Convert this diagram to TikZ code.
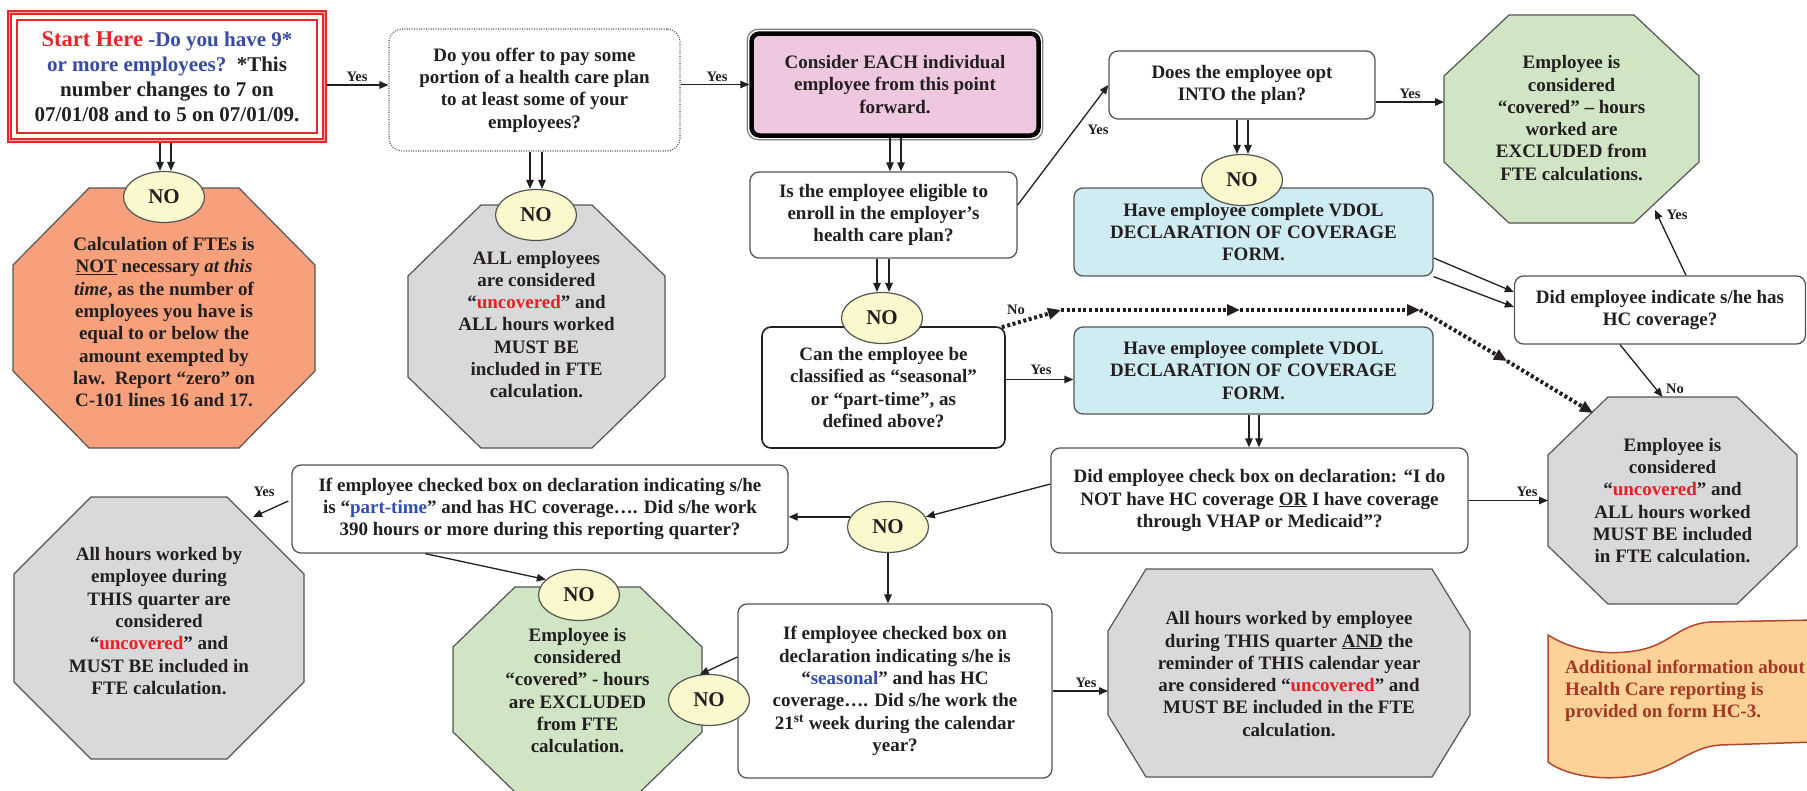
\documentclass[tikz,border=0pt]{standalone}
\usepackage{fontspec}
\setmainfont{Liberation Serif}
\usetikzlibrary{arrows.meta,calc,shapes.geometric}

\definecolor{startred}{RGB}{230,40,40}
\definecolor{qblue}{RGB}{55,75,165}
\definecolor{uncred}{RGB}{235,30,35}
\definecolor{ptblue}{RGB}{50,80,170}
\definecolor{orangefill}{RGB}{246,160,124}
\definecolor{grayfill}{RGB}{217,217,220}
\definecolor{greenfill}{RGB}{207,229,195}
\definecolor{bluefill}{RGB}{208,236,243}
\definecolor{pinkfill}{RGB}{238,200,224}
\definecolor{nofill}{RGB}{250,248,205}
\definecolor{bannerfill}{RGB}{252,210,152}
\definecolor{bannerline}{RGB}{180,70,45}
\definecolor{bannertext}{RGB}{165,55,35}
\definecolor{textdark}{RGB}{35,31,32}
\definecolor{linegray}{RGB}{85,85,85}

\tikzset{
  base/.style={font=\fontsize{19}{22.3}\selectfont\bfseries, text=textdark, align=center},
  box/.style={base, draw=linegray, line width=1.3pt, rounded corners=9pt, fill=white, inner sep=0pt},
  octline/.style={draw=linegray, line width=1.2pt},
  nobubble/.style={ellipse, draw=linegray, line width=1.2pt, fill=nofill, minimum width=81pt, minimum height=51pt, inner sep=0pt, font=\fontsize{21}{24}\selectfont\bfseries, text=textdark},
  arr/.style={draw=textdark, line width=1.3pt, -{Triangle[length=9pt,width=7.5pt]}},
  dotarr/.style={draw=textdark, line width=4pt, dash pattern=on 3pt off 2.6pt, -{Triangle[length=13pt,width=11pt]}},
  lbl/.style={font=\fontsize{14.5}{17}\selectfont\bfseries, text=textdark, inner sep=0pt},
}

% #1 name, #2 centre, #3 width, #4 height, #5 cut x, #6 cut y, #7 fill, #8 text, #9 text y offset
\newcommand{\myoct}[9]{%
  \node[minimum width=#3pt, minimum height=#4pt, inner sep=0pt, outer sep=0pt] (#1) at (#2) {};
  \draw[octline, fill=#7] ([xshift=#5pt]#1.north west) -- ([xshift=-#5pt]#1.north east)
    -- ([yshift=-#6pt]#1.north east) -- ([yshift=#6pt]#1.south east)
    -- ([xshift=-#5pt]#1.south east) -- ([xshift=#5pt]#1.south west)
    -- ([yshift=#6pt]#1.south west) -- ([yshift=-#6pt]#1.north west) -- cycle;
  \node[base, inner sep=0pt] (#1-text) at ($(#1)+(0,#9)$) {#8};
}

\begin{document}
\begin{tikzpicture}[x=1pt,y=-1pt]
\useasboundingbox (0,0) rectangle (1807,790);
\fill[white] (0,0) rectangle (1807,790);

% ---------- octagons ----------
\myoct{orange}{164,318}{302}{260}{76}{77}{orangefill}{Calculation of FTEs is\\\underline{NOT} necessary \textit{at this}\\\textit{time}, as the number of\\employees you have is\\equal to or below the\\amount exempted by\\law.\ \ Report “zero” on\\C-101 lines 16 and 17.}{4}
\myoct{grayB}{536.5,326.5}{257}{243}{73}{71}{grayfill}{ALL employees\\are considered\\“\textcolor{uncred}{uncovered}” and\\ALL hours worked\\MUST BE\\included in FTE\\calculation.}{-2}
\myoct{greenT}{1571.5,119}{255}{208}{65}{61}{greenfill}{Employee is\\considered\\“covered” – hours\\worked are\\EXCLUDED from\\FTE calculations.}{-1}
\myoct{grayR}{1672.5,500.5}{249}{207}{60}{58}{grayfill}{Employee is\\considered\\“\textcolor{uncred}{uncovered}” and\\ALL hours worked\\MUST BE included\\in FTE calculation.}{0}
\myoct{grayL}{159,628}{290}{262}{77}{77}{grayfill}{All hours worked by\\employee during\\THIS quarter are\\considered\\“\textcolor{uncred}{uncovered}” and\\MUST BE included in\\FTE calculation.}{-7}
\myoct{greenB}{577.5,689.5}{249}{205}{62}{60}{greenfill}{Employee is\\considered\\“covered” - hours\\are EXCLUDED\\from FTE\\calculation.}{1}
\myoct{grayM}{1289,673}{362}{208}{38}{62}{grayfill}{All hours worked by employee\\during THIS quarter \underline{AND} the\\reminder of THIS calendar year\\are considered “\textcolor{uncred}{uncovered}” and\\MUST BE included in the FTE\\calculation.}{1}

% ---------- start box ----------
\node[base, font=\fontsize{21}{25}\selectfont\bfseries, minimum width=320pt, minimum height=133pt, inner sep=0pt, outer sep=0pt, fill=white] (start) at (167,76.5)
  {{\fontsize{22.5}{25}\selectfont\color{startred}Start Here} \textcolor{qblue}{-Do you have 9*}\\\textcolor{qblue}{or more employees?}\ \ *This\\number changes to 7 on\\07/01/08 and to 5 on 07/01/09.};
\draw[startred, line width=5.3pt] ([shift={(2.65pt,-2.65pt)}]start.north west) rectangle ([shift={(-2.65pt,2.65pt)}]start.south east);
\draw[red!35, line width=1pt] ([shift={(2.65pt,-2.65pt)}]start.north west) rectangle ([shift={(-2.65pt,2.65pt)}]start.south east);
\draw[startred, line width=2pt] ([shift={(10.2pt,-10.2pt)}]start.north west) rectangle ([shift={(-10.2pt,10.2pt)}]start.south east);

% ---------- boxes ----------
\node[box, draw=linegray, line width=1.2pt, dash pattern=on 1pt off 1.4pt, rounded corners=13pt, minimum width=291pt, minimum height=122pt] (offer) at (534.5,90)
  {Do you offer to pay some\\portion of a health care plan\\to at least some of your\\employees?};
\node[box, draw=black, line width=4.5pt, fill=pinkfill, rounded corners=8pt, minimum width=287pt, minimum height=102pt] (pink) at (895,84.5)
  {Consider EACH individual\\employee from this point\\forward.};
\draw[gray, line width=1.2pt, rounded corners=11pt] ([shift={(-2pt,2pt)}]pink.north west) rectangle ([shift={(2pt,-2pt)}]pink.south east);
\node[box, minimum width=267pt, minimum height=86pt] (eligible) at (883.5,215)
  {Is the employee eligible to\\enroll in the employer’s\\health care plan?};
\node[box, minimum width=266pt, minimum height=68pt] (opt) at (1242,85)
  {Does the employee opt\\INTO the plan?};
\node[box, fill=bluefill, minimum width=359pt, minimum height=88pt] (blue1) at (1253.5,232)
  {Have employee complete VDOL\\DECLARATION OF COVERAGE\\FORM.};
\node[box, minimum width=291pt, minimum height=68pt] (indicate) at (1660,310)
  {Did employee indicate s/he has\\HC coverage?};
\node[box, draw=textdark, line width=1.6pt, minimum width=243pt, minimum height=121pt] (can) at (883.5,387.5)
  {Can the employee be\\classified as “seasonal”\\or “part-time”, as\\defined above?};
\node[box, fill=bluefill, minimum width=359pt, minimum height=87pt] (blue2) at (1253.5,370.5)
  {Have employee complete VDOL\\DECLARATION OF COVERAGE\\FORM.};
\node[box, minimum width=417pt, minimum height=105pt] (check) at (1259.5,500.5)
  {Did employee check box on declaration: “I do\\NOT have HC coverage \underline{OR} I have coverage\\through VHAP or Medicaid”?};
\node[box, minimum width=496pt, minimum height=88pt] (parttime) at (540,509)
  {If employee checked box on declaration indicating s/he\\is “\textcolor{ptblue}{part-time}” and has HC coverage…. Did s/he work\\390 hours or more during this reporting quarter?};
\node[box, minimum width=314pt, minimum height=174pt] (seasonal) at (895,691)
  {If employee checked box on\\declaration indicating s/he is\\“\textcolor{ptblue}{seasonal}” and has HC\\coverage…. Did s/he work the\\21\textsuperscript{st} week during the calendar\\year?};

% ---------- banner ----------
\draw[draw=bannerline, fill=bannerfill, line width=1.5pt] (1548,635) .. controls (1575,652) and (1610,656) .. (1640,650) .. controls (1670,644) and (1680,624) .. (1710,622) -- (1815,620) -- (1815,742) -- (1720,745) .. controls (1690,747) and (1675,768) .. (1640,775) .. controls (1600,782) and (1565,775) .. (1548,762) -- cycle;
\node[base, align=left, text=bannertext, anchor=west, inner sep=0pt] (banner) at (1565,691)
  {Additional information about\\Health Care reporting is\\provided on form HC-3.};

% ---------- NO bubbles ----------
\node[nobubble] (noStart) at (164,197) {NO};
\node[nobubble] (noOffer) at (536,215) {NO};
\node[nobubble] (noElig) at (882,318) {NO};
\node[nobubble] (noOpt) at (1242,180) {NO};
\node[nobubble] (noMid) at (888,527) {NO};
\node[nobubble] (noGreen) at (579,595) {NO};
\node[nobubble] (noSeason) at (709,700) {NO};

% ---------- double arrows ----------
\coordinate (s1) at ($(noStart.north)+(-4,0)$);
\coordinate (s2) at ($(noStart.north)+(7,0)$);
\draw[arr] (s1 |- start.south) -- (s1);
\draw[arr] (s2 |- start.south) -- (s2);
\coordinate (o1) at ($(noOffer.north)+(-6,0)$);
\coordinate (o2) at ($(noOffer.north)+(6,0)$);
\draw[arr] (o1 |- offer.south) -- (o1);
\draw[arr] (o2 |- offer.south) -- (o2);
\coordinate (p1) at ($(pink.south)+(-5,0)$);
\coordinate (p2) at ($(pink.south)+(6,0)$);
\draw[arr] (p1) -- (p1 |- eligible.north);
\draw[arr] (p2) -- (p2 |- eligible.north);
\coordinate (e1) at ($(noElig.north)+(-5,0)$);
\coordinate (e2) at ($(noElig.north)+(7,0)$);
\draw[arr] (e1 |- eligible.south) -- (e1);
\draw[arr] (e2 |- eligible.south) -- (e2);
\coordinate (q1) at ($(noOpt.north)+(-5,0)$);
\coordinate (q2) at ($(noOpt.north)+(6,0)$);
\draw[arr] (q1 |- opt.south) -- (q1);
\draw[arr] (q2 |- opt.south) -- (q2);
\coordinate (b1) at ($(blue2.south)+(-4.5,0)$);
\coordinate (b2) at ($(blue2.south)+(5.5,0)$);
\draw[arr] (b1) -- (b1 |- check.north);
\draw[arr] (b2) -- (b2 |- check.north);

% ---------- single arrows ----------
\coordinate (c1) at ($(start.east)+(0,8.5)$);
\draw[arr] (c1) -- (c1 -| offer.west);
\node[lbl] (yes1) at (357,77) {Yes};
\draw[arr] (pink.west -| offer.east) -- (pink.west);
\node[lbl] (yes2) at (717,77) {Yes};
\draw[arr] ($(eligible.east)+(0,-10)$) -- (opt.west);
\node[lbl] (yes3) at (1098,130) {Yes};
\coordinate (c2) at ($(opt.east)+(0,17)$);
\draw[arr] (c2) -- (c2 -| greenT.west);
\node[lbl] (yes4) at (1410,94) {Yes};
\draw[arr] ($(blue1.east)+(0,26)$) -- ($(indicate.west)+(0,-18)$);
\draw[arr] (blue1.south east) -- ($(indicate.west)+(0,-3)$);
\draw[arr] ($(indicate.north)+(26,0)$) -- ($(greenT.south east)+(-44,-13)$);
\node[lbl] (yes5) at (1677,215) {Yes};
\draw[arr] ($(indicate.south)+(-40,0)$) -- ($(grayR.north)+(-10,0)$);
\node[lbl] (no1) at (1675,389) {No};
\coordinate (c3) at ($(can.east)+(0,-8)$);
\draw[arr] (c3) -- (c3 -| blue2.west);
\node[lbl] (yes6) at (1041,370) {Yes};
\draw[arr] (check.east) -- (grayR.west);
\node[lbl] (yes7) at (1527,492) {Yes};
\draw[arr] ($(check.west)+(0,-16.5)$) -- (noMid.15);
\draw[arr] (noMid.165) -- (noMid.165 -| parttime.east);
\draw[arr] (noMid.south) -- (noMid.south |- seasonal.north);
\draw[arr] ($(parttime.west)+(-3,-8)$) -- ($(grayL.north east)+(-51,20)$);
\node[lbl] (yes8) at (264,492) {Yes};
\draw[arr] ($(parttime.south west)+(134,0)$) -- (noGreen.155);
\draw[arr] ($(seasonal.west)+(0,-34)$) -- (noSeason.110);
\draw[arr] (seasonal.east) -- (seasonal.east -| grayM.west);
\node[lbl] (yes9) at (1086,683) {Yes};

% ---------- dotted "No" path ----------
\coordinate (d0) at ($(can.north east)+(-4,1)$);
\coordinate (d1) at (1061,310);
\coordinate (d2) at (1240,310);
\coordinate (d3) at (1420,310);
\coordinate (d4) at (1507,361);
\coordinate (d5) at ($(grayR.north west)+(45,16)$);
\draw[dotarr] (d0) -- (d1);
\draw[dotarr] (d1) -- (d2);
\draw[dotarr] (d2) -- (d3);
\draw[dotarr] (d3) -- (d4);
\draw[dotarr] (d4) -- (d5);
\node[lbl] (no2) at (1016,310) {No};
\end{tikzpicture}
\end{document}
